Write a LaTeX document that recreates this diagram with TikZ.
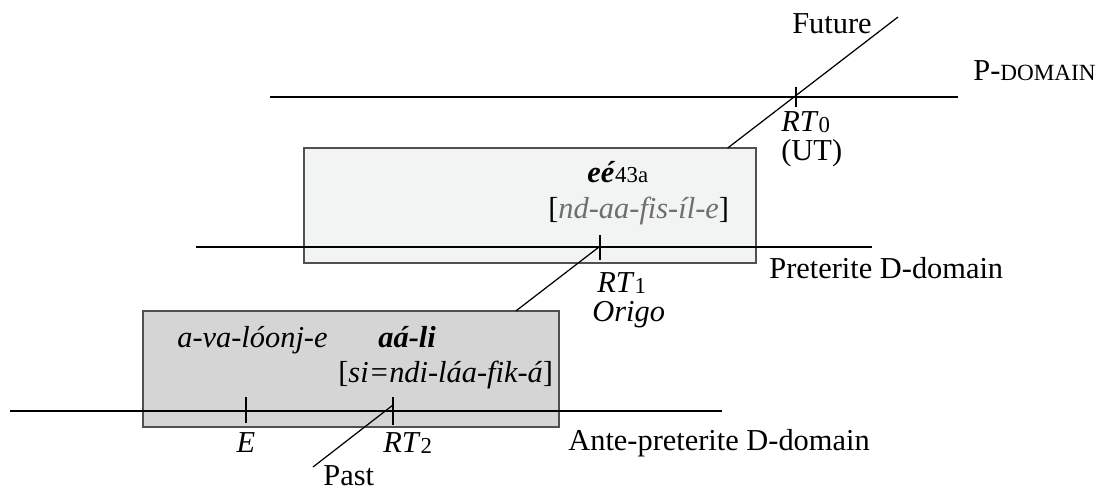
\documentclass[tikz,border=0pt]{standalone}
\usepackage{fontspec}
\setmainfont{Liberation Serif}
\definecolor{paleBox}{HTML}{F2F3F3}
\definecolor{greyBox}{HTML}{D5D5D5}
\definecolor{greyText}{HTML}{6E6E6E}
\definecolor{edgeGrey}{HTML}{505050}
\newcommand{\rtidx}[1]{\textit{RT}\raisebox{-0.1ex}{\fontsize{13}{14}\selectfont #1}}
\begin{document}
\begin{tikzpicture}[x=0.02cm,y=-0.02cm,line cap=butt,
	every node/.style={font=\fontsize{17.3}{20}\selectfont,inner sep=0pt},
	domline/.style={line width=1.15pt},
	timeline/.style={line width=0.7pt},
	panel/.style={draw=edgeGrey,line width=0.6pt}]
	\useasboundingbox (0,0) rectangle (1105,491);
	% the two domain boxes
	\filldraw[panel,fill=paleBox] (304,148) coordinate (b1nw) rectangle (756,263);
	\filldraw[panel,fill=greyBox] (143,311) coordinate (b2nw) rectangle (559,427);
	\coordinate (b1ne) at (756,148);
	\coordinate (b2ne) at (559,311);
	% time axis
	\coordinate (fut) at (898,17);
	\coordinate (past) at (313,467);
	\coordinate (rt0) at (796,97);
	\coordinate (rt1) at (599,247);
	\coordinate (rt2) at (393,405);
	\draw[timeline] (fut) -- (intersection of fut--past and b1nw--b1ne);
	\draw[timeline] (rt1) -- (intersection of fut--past and b2nw--b2ne);
	\draw[timeline] (rt2) -- (past);
	% domains
	\draw[domline] (270,97) -- (958,97);
	\draw[domline] (196,247) -- (872,247);
	\draw[domline] (10,411) -- (722,411);
	\draw[timeline] (rt0) ++(0,-10) -- ++(0,20);
	\draw[timeline] (600,235) -- (600,260);
	\draw[domline] (246,397) -- (246,423);
	\draw[timeline] (393,397) -- (393,425);
	% labels
	\node[anchor=base] (future) at (832,33) {Future};
	\node[anchor=base west] (pdom) at (973,80) {P-{\fontsize{13.2}{15}\selectfont DOMAIN}};
	\node[anchor=north west,align=left,font=\fontsize{17.3}{16.6}\selectfont] (rt0lab) at (781,111) {\rtidx{0}\\(UT)};
	\node[anchor=base west] (ee) at (587,182) {\textbf{\textit{eé}}{\fontsize{13}{14}\selectfont 43a}};
	\node[anchor=base west] (eegl) at (548,218) {[\textcolor{greyText}{\textit{nd-aa-fis-íl-e}}]};
	\node[anchor=base west] (rt1lab) at (597,292) {\rtidx{1}};
	\node[anchor=base west] (origo) at (592,321) {\textit{Origo}};
	\node[anchor=base west] (pret) at (769,278) {Preterite D-domain};
	\node[anchor=base west] (avalo) at (177,347) {\textit{a-va-lóonj-e}};
	\node[anchor=base west] (aali) at (378,347) {\textbf{\textit{aá-li}}};
	\node[anchor=base west] (aagl) at (338,382) {[\textit{si=ndi-láa-fik-á}]};
	\node[anchor=base] (elab) at (246,452) {\textit{E}};
	\node[anchor=base west] (rt2lab) at (383,452) {\rtidx{2}};
	\node[anchor=base west] (pastlab) at (323,485) {Past};
	\node[anchor=base west] (ante) at (568,450) {Ante-preterite D-domain};
\end{tikzpicture}
\end{document}
